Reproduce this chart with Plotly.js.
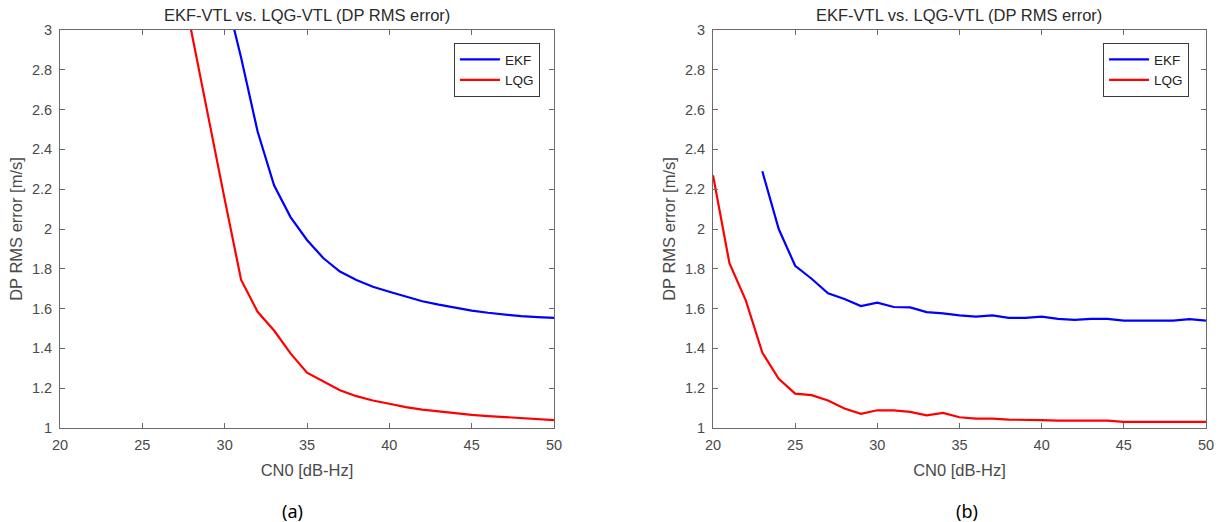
<!DOCTYPE html>
<html>
<head>
<meta charset="utf-8">
<script src="https://cdn.plot.ly/plotly-3.0.1.min.js"></script>
<style>html,body{margin:0;padding:0;background:#fff;}#chart{width:1223px;height:522px;}</style>
</head>
<body>
<div id="chart"></div>
<script>
// ---- data ----
const seriesNames = ["EKF", "LQG"];
const panelTitle = "EKF-VTL vs. LQG-VTL (DP RMS error)";
const xTitle = "CN0 [dB-Hz]";
const yTitle = "DP RMS error [m/s]";
const panelLabels = ["(a)", "(b)"];

const xTickVals = [20, 25, 30, 35, 40, 45, 50];
const xTickText = ["20", "25", "30", "35", "40", "45", "50"];
const yTickVals = [1, 1.2, 1.4, 1.6, 1.8, 2, 2.2, 2.4, 2.6, 2.8, 3];
const yTickText = ["1", "1.2", "1.4", "1.6", "1.8", "2", "2.2", "2.4", "2.6", "2.8", "3"];

// panel (a)
const cn0A_ekf = [30, 31, 32, 33, 34, 35, 36, 37, 38, 39, 40, 41, 42, 43, 44, 45, 46, 47, 48, 49, 50];
const rmsA_ekf = [3.20, 2.86, 2.49, 2.22, 2.06, 1.945, 1.853, 1.786, 1.744, 1.71, 1.685, 1.66, 1.637, 1.62, 1.604, 1.59, 1.579, 1.57, 1.562, 1.557, 1.553];
const cn0A_lqg = [27, 28, 29, 30, 31, 32, 33, 34, 35, 36, 37, 38, 39, 40, 41, 42, 43, 44, 45, 46, 47, 48, 49, 50];
const rmsA_lqg = [3.40, 2.98, 2.57, 2.15, 1.744, 1.584, 1.49, 1.375, 1.278, 1.233, 1.19, 1.16, 1.138, 1.122, 1.105, 1.092, 1.083, 1.074, 1.066, 1.06, 1.055, 1.05, 1.045, 1.04];

// panel (b)
const cn0B_ekf = [23, 24, 25, 26, 27, 28, 29, 30, 31, 32, 33, 34, 35, 36, 37, 38, 39, 40, 41, 42, 43, 44, 45, 46, 47, 48, 49, 50];
const rmsB_ekf = [2.29, 2.0, 1.815, 1.75, 1.677, 1.648, 1.613, 1.63, 1.608, 1.606, 1.582, 1.576, 1.566, 1.56, 1.566, 1.553, 1.553, 1.56, 1.548, 1.543, 1.548, 1.548, 1.54, 1.54, 1.54, 1.54, 1.547, 1.54];
const cn0B_lqg = [20, 21, 22, 23, 24, 25, 26, 27, 28, 29, 30, 31, 32, 33, 34, 35, 36, 37, 38, 39, 40, 41, 42, 43, 44, 45, 46, 47, 48, 49, 50];
const rmsB_lqg = [2.27, 1.828, 1.64, 1.379, 1.247, 1.173, 1.165, 1.138, 1.098, 1.071, 1.089, 1.089, 1.081, 1.064, 1.076, 1.054, 1.047, 1.047, 1.042, 1.042, 1.04, 1.037, 1.037, 1.037, 1.037, 1.031, 1.031, 1.031, 1.031, 1.031, 1.031];

// ---- styling ----
const FONT = "Liberation Sans, Arial, sans-serif";
const colors = {EKF: "#0000ff", LQG: "#ff0000"};

function line(x, y, name, xa, ya, lg) {
  return {x: x, y: y, name: name, type: "scatter", mode: "lines",
          xaxis: xa, yaxis: ya, legend: lg,
          line: {color: colors[name], width: 2.2}, hoverinfo: "x+y+name"};
}

const traces = [
  line(cn0A_ekf, rmsA_ekf, seriesNames[0], "x", "y", "legend"),
  line(cn0A_lqg, rmsA_lqg, seriesNames[1], "x", "y", "legend"),
  line(cn0B_ekf, rmsB_ekf, seriesNames[0], "x2", "y2", "legend2"),
  line(cn0B_lqg, rmsB_lqg, seriesNames[1], "x2", "y2", "legend2")
];

function xAxis(domain, anchor) {
  return {domain: domain, anchor: anchor, range: [20, 50], tickmode: "array",
          tickvals: xTickVals, ticktext: xTickText,
          ticks: "inside", ticklen: 5, tickwidth: 1, tickcolor: "#6b6b6b",
          showline: true, linecolor: "#6b6b6b", linewidth: 1, mirror: "ticks",
          showgrid: false, zeroline: false, automargin: false, ticklabelstandoff: 4,
          tickfont: {family: FONT, size: 14.5, color: "#4a4a4a"},
          title: {text: xTitle, font: {family: FONT, size: 16.5, color: "#4a4a4a"}, standoff: 12}};
}
function yAxis(anchor) {
  return {domain: [0, 1], anchor: anchor, range: [1, 3], tickmode: "array",
          tickvals: yTickVals, ticktext: yTickText,
          ticks: "inside", ticklen: 5, tickwidth: 1, tickcolor: "#6b6b6b",
          showline: true, linecolor: "#6b6b6b", linewidth: 1, mirror: "ticks",
          showgrid: false, zeroline: false, automargin: false, ticklabelstandoff: 4,
          tickfont: {family: FONT, size: 14.5, color: "#4a4a4a"},
          title: {text: yTitle, font: {family: FONT, size: 16.5, color: "#4a4a4a"}, standoff: 5}};
}

const legendStyle = (x) => ({x: x, y: 0.967, xanchor: "right", yanchor: "top",
  xref: "paper", yref: "paper", bgcolor: "#ffffff", bordercolor: "#3a3a3a", borderwidth: 1,
  font: {family: FONT, size: 13.5, color: "#222"}, tracegroupgap: 0, itemwidth: 40});

const layout = {
  width: 1223, height: 522,
  margin: {l: 60, r: 17, t: 30, b: 94, pad: 0},
  paper_bgcolor: "#ffffff", plot_bgcolor: "#ffffff",
  showlegend: true,
  xaxis: xAxis([0, 0.43106], "y"),
  yaxis: yAxis("x"),
  xaxis2: xAxis([0.56981, 1], "y2"),
  yaxis2: yAxis("x2"),
  legend: legendStyle(0.4188),
  legend2: legendStyle(0.9852),
  annotations: [
    {text: panelTitle, x: 0.21553, y: 1.0389, xref: "paper", yref: "paper", showarrow: false,
     xanchor: "center", yanchor: "middle", font: {family: FONT, size: 16.5, color: "#2b2b2b"}},
    {text: panelTitle, x: 0.7849, y: 1.0389, xref: "paper", yref: "paper", showarrow: false,
     xanchor: "center", yanchor: "middle", font: {family: FONT, size: 16.5, color: "#2b2b2b"}},
    {text: panelLabels[0], x: 0.2033, y: -0.2085, xref: "paper", yref: "paper", showarrow: false,
     xanchor: "center", yanchor: "middle", font: {family: "Noto Sans", size: 18, color: "#000"}},
    {text: panelLabels[1], x: 0.7914, y: -0.2085, xref: "paper", yref: "paper", showarrow: false,
     xanchor: "center", yanchor: "middle", font: {family: "Noto Sans", size: 18, color: "#000"}}
  ]
};

Plotly.newPlot("chart", traces, layout, {displayModeBar: false, staticPlot: true});
</script>
</body>
</html>
